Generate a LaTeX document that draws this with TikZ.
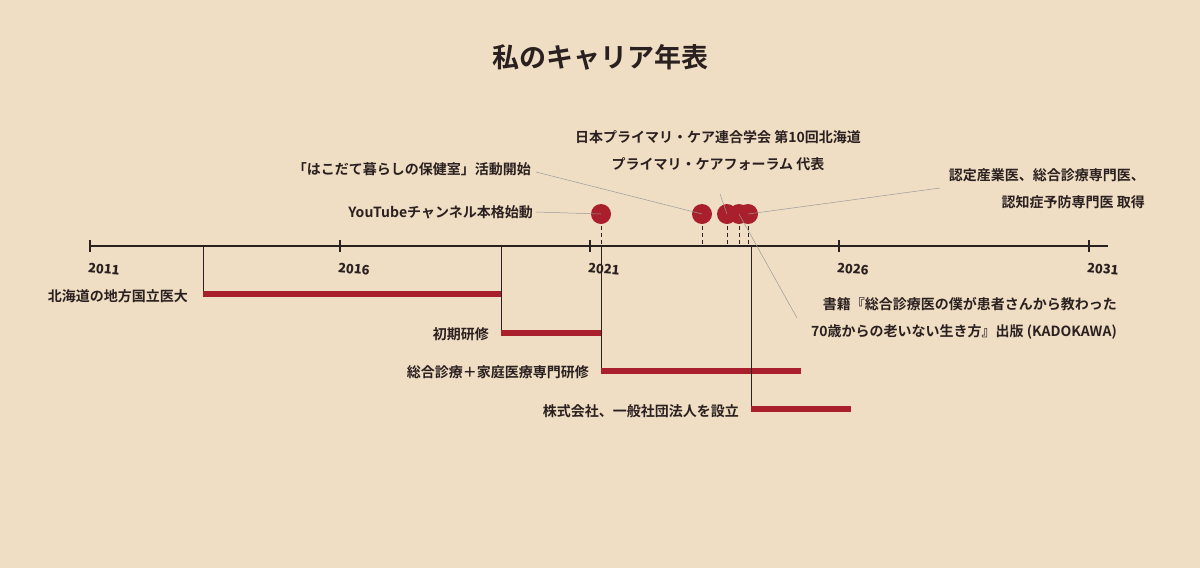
\documentclass[tikz,border=0pt]{standalone}
\usepackage{fontspec}
\setmainfont{Noto Sans CJK JP}[BoldFont={* Bold}]
\definecolor{bg}{HTML}{EFDEC4}
\definecolor{ink}{HTML}{2B2020}
\definecolor{bar}{HTML}{A91F2B}
\definecolor{lead}{HTML}{9A9A9A}
\tikzset{
  lbl/.style={font=\bfseries\fontsize{14}{16}\selectfont, text=ink, inner sep=1pt},
  lbl2/.style={lbl, font=\bfseries\fontsize{14}{27}\selectfont},
  yr/.style={font=\bfseries\itshape\fontsize{13}{14}\selectfont, text=ink, rotate=-5},
  barln/.style={bar, line width=6pt},
  vline/.style={ink, line width=1pt},
  dot/.style={circle, fill=bar, minimum size=20pt, inner sep=0pt},
  dsh/.style={ink, dashed, dash pattern=on 4pt off 3pt, line width=0.8pt},
  leader/.style={lead, line width=0.5pt}
}
\begin{document}
\begin{tikzpicture}[x=1pt,y=-1pt]
\fill[bg] (0,0) rectangle (1200,568);
\useasboundingbox (0,0) rectangle (1200,568);
\node[font=\bfseries\fontsize{27}{30}\selectfont, text=ink] (title) at (600,57) {私のキャリア年表};
% axis
\coordinate (a0) at (90,246); \coordinate (a1) at (1108,246);
\draw[ink, line width=2pt] (a0) -- (a1);
\foreach \x/\y in {90/2011,340/2016,590/2021,839/2026,1089/2031}{
  \draw[ink, line width=1.5pt] (\x,240) -- (\x,252);
  \node[yr] at (\x+14,269) {\y};
}
% periods
\coordinate (p1) at (203,246); \coordinate (p1b) at (203,294); \coordinate (p1e) at (501,294);
\draw[vline] (p1) -- (p1b); \draw[barln] (p1b) -- (p1e);
\node[lbl, anchor=east] (l1) at (189,296) {北海道の地方国立医大};
\coordinate (p2) at (501,246); \coordinate (p2b) at (501,333); \coordinate (p2e) at (601,333);
\draw[vline] (p2) -- (p2b); \draw[barln] (p2b) -- (p2e);
\node[lbl, anchor=east] (l2) at (490,334) {初期研修};
\coordinate (p3) at (601,246); \coordinate (p3b) at (601,371); \coordinate (p3e) at (801,371);
\draw[vline] (p3) -- (p3b); \draw[barln] (p3b) -- (p3e);
\node[lbl, anchor=east] (l3) at (590,372) {総合診療＋家庭医療専門研修};
\coordinate (p4) at (751,246); \coordinate (p4b) at (751,409); \coordinate (p4e) at (851,409);
\draw[vline] (p4) -- (p4b); \draw[barln] (p4b) -- (p4e);
\node[lbl, anchor=east] (l4) at (740,411) {株式会社、一般社団法人を設立};
% events
\foreach \x in {601,702,727,739,748}{
  \draw[dsh] (\x,226) -- (\x,246);
}
\node[dot] (e1) at (601,214) {};
\node[dot] (e2) at (702,214) {};
\node[dot] (e3) at (727,214) {};
\node[dot] (e4) at (739,214) {};
\node[dot] (e5) at (748,214) {};
\node[lbl, anchor=east] (t1) at (534,212) {YouTubeチャンネル本格始動};
\node[lbl, anchor=east] (t2) at (532,169) {「はこだて暮らしの保健室」活動開始};
\node[lbl2, align=center] (t3) at (718,151) {日本プライマリ・ケア連合学会 第10回北海道\\プライマリ・ケアフォーラム 代表};
\node[lbl2, align=right, anchor=east] (t4) at (1146,189) {認定産業医、総合診療専門医、\\認知症予防専門医 取得};
\node[lbl2, align=right, anchor=east] (t5) at (1118,318) {書籍『総合診療医の僕が患者さんから教わった\\70歳からの老いない生き方』出版 (KADOKAWA)};
\coordinate (c1) at (536,212); \coordinate (c2) at (536,172); \coordinate (c3) at (720,194);
\coordinate (c4) at (940,188); \coordinate (c5) at (797,318);
\draw[leader] (c1) -- (e1.center);
\draw[leader] (c2) -- (e2.center);
\draw[leader] (c3) -- (e3.center);
\draw[leader] (c4) -- (e5.center);
\draw[leader] (c5) -- (e4.center);
\end{tikzpicture}
\end{document}
